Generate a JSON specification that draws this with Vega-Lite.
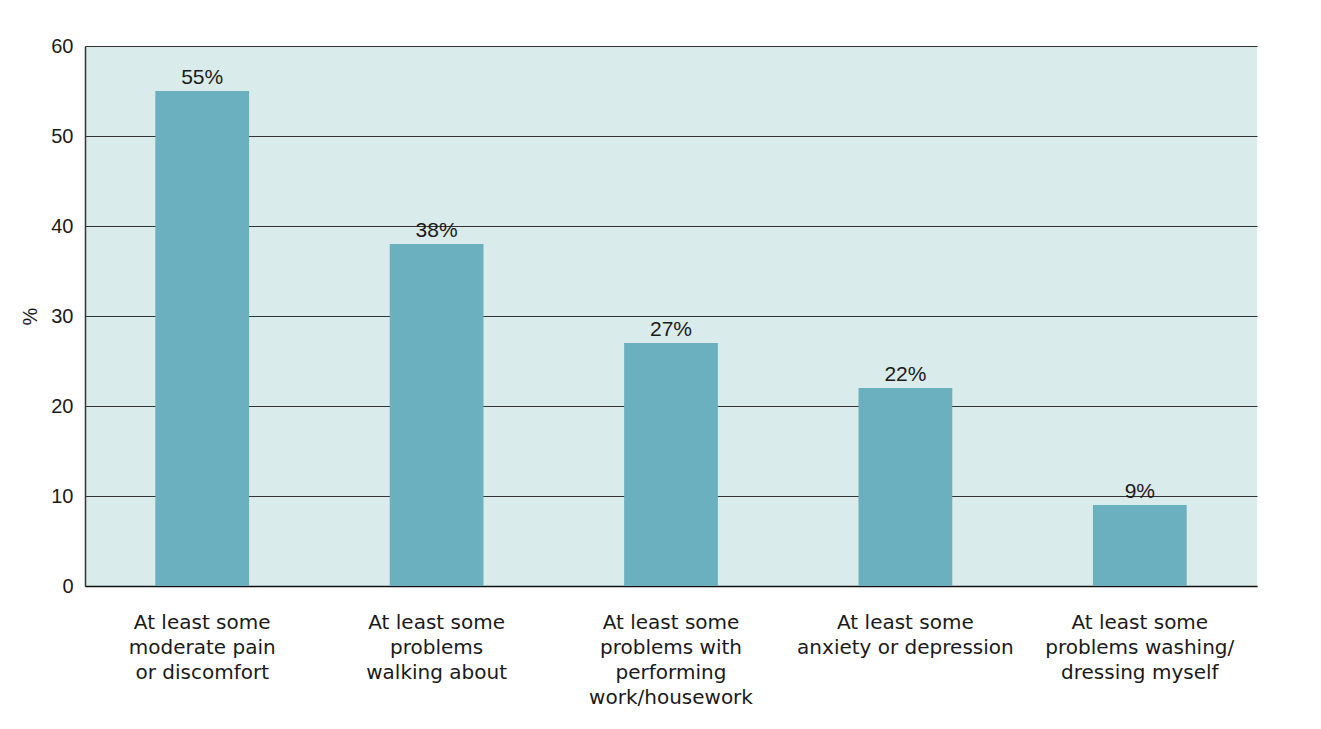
{
  "$schema": "https://vega.github.io/schema/vega-lite/v6.json",
  "autosize": {"type": "none"},
  "width": 1172,
  "height": 540,
  "padding": {"left": 85, "top": 46, "right": 64, "bottom": 143},
  "background": "white",
  "config": {
    "font": "Liberation Sans",
    "view": {"fill": "#daebeb", "stroke": null}
  },
  "data": {
    "values": [
      {"label": "At least some|moderate pain|or discomfort", "value": 55, "text": "55%"},
      {"label": "At least some|problems|walking about", "value": 38, "text": "38%"},
      {"label": "At least some|problems with|performing|work/housework", "value": 27, "text": "27%"},
      {"label": "At least some|anxiety or depression", "value": 22, "text": "22%"},
      {"label": "At least some|problems washing/|dressing myself", "value": 9, "text": "9%"}
    ]
  },
  "encoding": {
    "x": {
      "field": "label",
      "type": "nominal",
      "sort": null,
      "scale": {"paddingInner": 0.6, "paddingOuter": 0.3},
      "axis": {
        "title": null,
        "labelAngle": 0,
        "labelExpr": "split(datum.label, '|')",
        "labelFont": "DejaVu Sans",
        "labelFontSize": 20,
        "labelLineHeight": 25.3,
        "labelColor": "#1a1a1a",
        "labelPadding": 26,
        "ticks": false,
        "domain": true,
        "domainColor": "#111111",
        "domainWidth": 1.5,
        "labelLimit": 300
      }
    },
    "y": {
      "field": "value",
      "type": "quantitative",
      "scale": {"domain": [0, 60], "nice": false},
      "axis": {
        "title": "%",
        "titleFontSize": 20,
        "titleFontWeight": "normal",
        "titleColor": "#1a1a1a",
        "titlePadding": 10,
        "values": [0, 10, 20, 30, 40, 50, 60],
        "labelFontSize": 20,
        "labelColor": "#1a1a1a",
        "labelPadding": 12,
        "ticks": false,
        "domain": true,
        "domainColor": "#333333",
        "domainWidth": 1.5,
        "grid": true,
        "gridColor": "#333333",
        "gridWidth": 1.2,
        "gridOpacity": 1
      }
    }
  },
  "layer": [
    {
      "mark": {"type": "bar", "color": "#6ab0bf"},
      "encoding": {}
    },
    {
      "mark": {"type": "text", "baseline": "alphabetic", "dy": -7, "fontSize": 21, "color": "#1a1a1a"},
      "encoding": {"text": {"field": "text"}}
    }
  ]
}
